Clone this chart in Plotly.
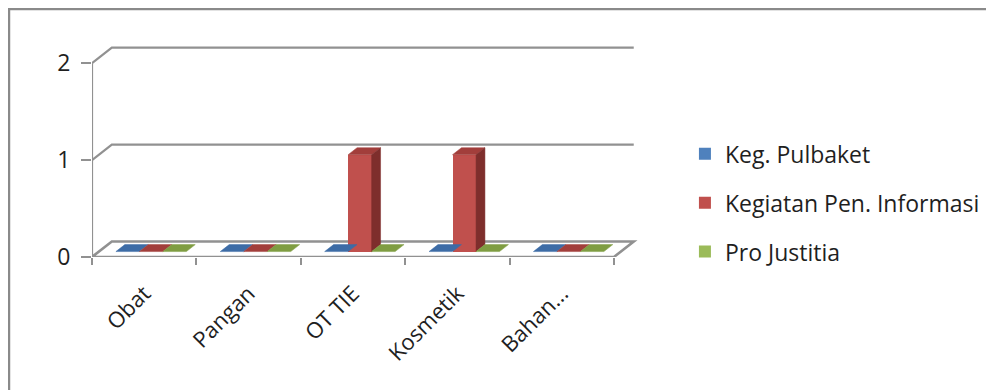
import plotly.graph_objects as go

categories = ["Obat", "Pangan", "OT TIE", "Kosmetik", "Bahan..."]
series_names = ["Keg. Pulbaket", "Kegiatan Pen. Informasi", "Pro Justitia"]
pulbaket = [0, 0, 0, 0, 0]
pen_informasi = [0, 0, 1, 1, 0]
pro_justitia = [0, 0, 0, 0, 0]
y_ticks = [0, 1, 2]

series = [pulbaket, pen_informasi, pro_justitia]
front_colors = ["#4F81BD", "#C0504D", "#9BBB59"]
top_colors = ["#3D6CA6", "#A23E3B", "#7F9D42"]
side_colors = ["#2F5485", "#7E2E2C", "#64802F"]

# fake 3d: depth of the floor in axis units, bars sit between f0 and f1 of it
dx, dy = 0.19, 0.16
f0, f1 = 0.35, 0.8
gap, bar_w = 0.1625, 0.225
grey = "#919191"
font = "Open Sans"

fig = go.Figure()

for s, vals in enumerate(series):
    xs = [i + gap + s * bar_w + bar_w / 2 + f0 * dx for i in range(len(categories))]
    fig.add_trace(go.Bar(
        x=xs, y=vals, base=f0 * dy, width=bar_w, name=series_names[s],
        marker=dict(color=front_colors[s], line=dict(width=0)),
        legendgroup=str(s), hoverinfo="skip",
    ))

for s, vals in enumerate(series):
    for i, v in enumerate(vals):
        x0 = i + gap + s * bar_w
        x1 = x0 + bar_w
        # top face
        fig.add_trace(go.Scatter(
            x=[x0 + f0 * dx, x1 + f0 * dx, x1 + f1 * dx, x0 + f1 * dx, x0 + f0 * dx],
            y=[v + f0 * dy, v + f0 * dy, v + f1 * dy, v + f1 * dy, v + f0 * dy],
            fill="toself", fillcolor=top_colors[s], mode="lines",
            line=dict(width=0.5, color=top_colors[s]),
            showlegend=False, hoverinfo="skip",
        ))
        if v > 0:
            # right side face
            fig.add_trace(go.Scatter(
                x=[x1 + f0 * dx, x1 + f1 * dx, x1 + f1 * dx, x1 + f0 * dx, x1 + f0 * dx],
                y=[f0 * dy, f1 * dy, v + f1 * dy, v + f0 * dy, f0 * dy],
                fill="toself", fillcolor=side_colors[s], mode="lines",
                line=dict(width=0.5, color=side_colors[s]),
                showlegend=False, hoverinfo="skip",
            ))

n = len(categories)
shapes = []
# floor
shapes.append(dict(
    type="path", xref="x", yref="y", layer="below",
    path=f"M 0,0 L {n},0 L {n + dx},{dy} L {dx},{dy} Z",
    line=dict(color=grey, width=2.6), fillcolor="white",
))
# back wall gridlines
for t in y_ticks[1:]:
    shapes.append(dict(
        type="path", xref="x", yref="y", layer="below",
        path=f"M 0,{t} L {dx},{t + dy} L {n + dx},{t + dy}",
        line=dict(color=grey, width=2.2),
    ))
# front value axis
shapes.append(dict(
    type="line", xref="x", yref="y", layer="below",
    x0=0, x1=0, y0=0, y1=max(y_ticks), line=dict(color=grey, width=2.2),
))
# outer chart border
shapes.append(dict(
    type="rect", xref="paper", yref="paper",
    x0=-0.1515, x1=2, y0=-1, y1=1.138,
    line=dict(color="#8a8a8a", width=2.5),
))

fig.update_layout(
    width=994, height=390,
    margin=dict(l=84, r=362, t=31, b=141),
    paper_bgcolor="white", plot_bgcolor="rgba(0,0,0,0)",
    barmode="overlay", bargap=0,
    shapes=shapes,
    font=dict(family=font, color="#1f1f1f", size=22),
    xaxis=dict(
        range=[0, n + 0.25], showgrid=False, zeroline=False, showline=False,
        tickmode="array", tickvals=[i + 0.5 for i in range(n)], ticktext=categories,
        ticks="outside", ticklen=14, tickcolor="rgba(0,0,0,0)",
        tickangle=-45, tickfont=dict(size=22),
        minor=dict(tickmode="array", tickvals=list(range(n + 1)), ticks="outside",
                   ticklen=7, tickwidth=2, tickcolor=grey, showgrid=False),
        fixedrange=True,
    ),
    yaxis=dict(
        range=[0, 2.25], showgrid=False, zeroline=False, showline=False,
        tickmode="array", tickvals=y_ticks, ticks="outside", ticklen=10,
        tickwidth=2, tickcolor=grey, tickfont=dict(size=23),
        ticklabelstandoff=6, fixedrange=True,
    ),
    legend=dict(
        x=1.082, xanchor="left", y=0.572, yanchor="top",
        tracegroupgap=16, font=dict(size=23), bgcolor="rgba(0,0,0,0)",
    ),
    showlegend=True,
)

fig.write_html("out.html")
